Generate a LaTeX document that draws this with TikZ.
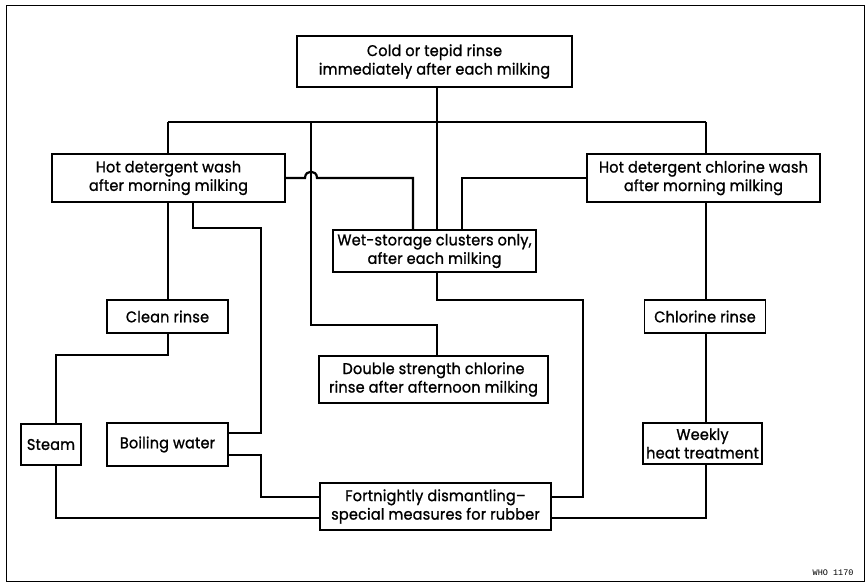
\documentclass[tikz,border=0pt]{standalone}
\usepackage{fontspec}
\setmainfont{Poppins}[FakeBold=1.2,FakeStretch=0.93,LetterSpace=1.5]
\setmonofont{Liberation Mono}
\begin{document}
\begin{tikzpicture}[x=1pt,y=-1pt,
  box/.style={draw,line width=1.1pt,inner sep=0pt,align=center,font=\fontsize{15.5}{18.5}\selectfont},
  conn/.style={line width=2.2pt,line join=miter},
  bus/.style={line width=2.8pt}]
\useasboundingbox (0,0) rectangle (867,585);
\draw[line width=1pt] (6,6) rectangle (864,581);
% boxes
\node[box,minimum width=275pt,minimum height=51pt] (top) at (434.5,61.5) {Cold or tepid rinse\\immediately after each milking};
\node[box,minimum width=233pt,minimum height=48pt] (hdw) at (168.5,178) {Hot detergent wash\\after morning milking};
\node[box,minimum width=233pt,minimum height=48pt] (hdcw) at (703.5,178) {Hot detergent chlorine wash\\after morning milking};
\node[box,minimum width=203pt,minimum height=42pt] (wet) at (434.5,251) {Wet-storage clusters only,\\after each milking};
\node[box,minimum width=121pt,minimum height=33pt] (clean) at (167.5,316.5) {Clean rinse};
\node[box,minimum width=121pt,minimum height=33pt] (chlr) at (705,316.5) {Chlorine rinse};
\node[box,minimum width=229pt,minimum height=47pt] (dbl) at (433.5,379.5) {Double strength chlorine\\rinse after afternoon milking};
\node[box,minimum width=60pt,minimum height=41pt] (steam) at (51,444.5) {Steam};
\node[box,minimum width=121pt,minimum height=43pt] (boil) at (167.5,444.5) {Boiling water};
\node[box,minimum width=119pt,minimum height=41pt] (weekly) at (702.5,443.5) {Weekly\\heat treatment};
\node[box,minimum width=231pt,minimum height=47pt] (fort) at (435.5,506.5) {Fortnightly dismantling–\\special measures for rubber};
\node[font=\ttfamily\fontsize{8.5}{9}\selectfont,anchor=east] (who) at (857,573) {WHO 1170};
% coordinates
\coordinate (busL) at (168,122);
\coordinate (busR) at (706,122);
\coordinate (b311) at (311,122);
% connectors
\draw[conn] (437,0 |- top.south) -- (437,0 |- wet.north);
\draw[bus] (busL) -- (busR);
\draw[conn] (busL) -- (busL |- hdw.north);
\draw[conn] (busR) -- (busR |- hdcw.north);
\draw[conn] (b311) -- (311,325) -- (437,325) -- (437,0 |- dbl.north);
\draw[conn] (hdw.east) -- (305,178) .. controls (305,169.5) and (317,169.5) .. (317,178) -- (413,178) -- (413,0 |- wet.north);
\draw[conn] (hdcw.west) -- (462,178) -- (462,0 |- wet.north);
\draw[conn] (437,0 |- wet.south) -- (437,300) -- (583,300) -- (583,497) -- (fort.east |- 0,497);
\draw[conn] (168,0 |- hdw.south) -- (168,0 |- clean.north);
\draw[conn] (193,0 |- hdw.south) -- (193,228) -- (261,228) -- (261,433) -- (boil.east |- 0,433);
\draw[conn] (168,0 |- clean.south) -- (168,355) -- (56,355) -- (56,0 |- steam.north);
\draw[conn] (56,0 |- steam.south) -- (56,518) -- (fort.west |- 0,518);
\draw[conn] (boil.east |- 0,455) -- (261,455) -- (261,497) -- (fort.west |- 0,497);
\draw[conn] (706,0 |- hdcw.south) -- (706,0 |- chlr.north);
\draw[conn] (706,0 |- chlr.south) -- (706,0 |- weekly.north);
\draw[conn] (706,0 |- weekly.south) -- (706,518) -- (fort.east |- 0,518);
\end{tikzpicture}
\end{document}
